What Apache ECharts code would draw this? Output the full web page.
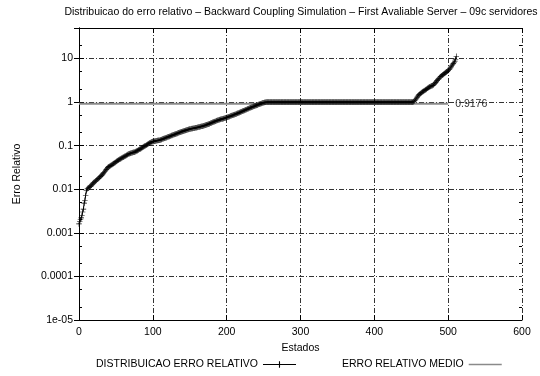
<!DOCTYPE html>
<html>
<head>
<meta charset="utf-8">
<title>Distribuicao do erro relativo</title>
<script src="https://cdn.jsdelivr.net/npm/echarts@6/dist/echarts.min.js"></script>
<style>
  html, body { margin: 0; padding: 0; background: #fff; }
  #chart { width: 540px; height: 376px; }
</style>
</head>
<body>
<div id="chart"></div>
<script>
// Sorted relative error for each state (index = state number, 0..511)
const relErrors = [
  // 0-15
  0.0016,0.0018,0.0020,0.0022,0.0025,0.0030,0.0035,0.0048,0.0056,0.0072,
  0.0092,0.0101,0.0105,0.0108,0.0111,0.0114,
  // 16-89
  0.0118,0.0124,0.0131,0.0138,0.0143,0.0147,0.0151,0.0157,0.0163,0.0169,
  0.0175,0.0181,0.0188,0.0195,0.0203,0.0211,0.0222,0.0234,0.0246,0.0259,
  0.0272,0.0286,0.0300,0.0314,0.0327,0.0334,0.0340,0.0349,0.0358,0.0368,
  0.0378,0.0389,0.0400,0.0412,0.0424,0.0436,0.0449,0.0462,0.0474,0.0486,
  0.0497,0.0509,0.0521,0.0533,0.0545,0.0557,0.0569,0.0582,0.0596,0.0610,
  0.0625,0.0640,0.0650,0.0660,0.0668,0.0676,0.0684,0.0692,0.0701,0.0710,
  0.0720,0.0735,0.0751,0.0768,0.0785,0.0803,0.0822,0.0842,0.0862,0.0883,
  0.0905,0.0928,0.0952,0.0976,
  // 90-186
  0.1000,0.1025,0.1050,0.1076,0.1103,0.1130,0.1158,0.1186,0.1214,0.1230,
  0.1242,0.1253,0.1264,0.1275,0.1285,0.1295,0.1305,0.1315,0.1326,0.1337,
  0.1349,0.1370,0.1392,0.1413,0.1435,0.1456,0.1478,0.150,0.152,0.154,
  0.157,0.159,0.161,0.164,0.167,0.170,0.172,0.175,0.177,0.180,
  0.182,0.185,0.188,0.191,0.194,0.197,0.200,0.203,0.206,0.209,
  0.212,0.215,0.218,0.221,0.224,0.227,0.230,0.232,0.235,0.237,
  0.240,0.242,0.244,0.246,0.248,0.250,0.252,0.254,0.256,0.258,
  0.260,0.263,0.266,0.268,0.271,0.274,0.277,0.280,0.283,0.286,
  0.289,0.293,0.297,0.301,0.305,0.310,0.315,0.320,0.326,0.331,
  0.337,0.342,0.348,0.354,0.359,0.365,0.371,
  // 187-253
  0.376,0.381,0.386,0.391,0.396,0.401,0.406,0.411,0.416,0.421,
  0.426,0.431,0.436,0.441,0.448,0.455,0.462,0.469,0.476,0.483,
  0.490,0.497,0.504,0.512,0.519,0.527,0.535,0.543,0.551,0.561,
  0.571,0.581,0.591,0.601,0.612,0.622,0.633,0.644,0.655,0.667,
  0.678,0.690,0.702,0.714,0.726,0.738,0.750,0.762,0.774,0.786,
  0.798,0.810,0.822,0.835,0.848,0.861,0.874,0.887,0.900,0.915,
  0.930,0.945,0.958,0.970,0.981,0.990,0.996,
  // 254-452
  1,1,1,1,1,1,1,1,1,1,1,1,1,1,1,1,1,1,1,1,
  1,1,1,1,1,1,1,1,1,1,1,1,1,1,1,1,1,1,1,1,
  1,1,1,1,1,1,1,1,1,1,1,1,1,1,1,1,1,1,1,1,
  1,1,1,1,1,1,1,1,1,1,1,1,1,1,1,1,1,1,1,1,
  1,1,1,1,1,1,1,1,1,1,1,1,1,1,1,1,1,1,1,1,
  1,1,1,1,1,1,1,1,1,1,1,1,1,1,1,1,1,1,1,1,
  1,1,1,1,1,1,1,1,1,1,1,1,1,1,1,1,1,1,1,1,
  1,1,1,1,1,1,1,1,1,1,1,1,1,1,1,1,1,1,1,1,
  1,1,1,1,1,1,1,1,1,1,1,1,1,1,1,1,1,1,1,1,
  1,1,1,1,1,1,1,1,1,1,1,1,1,1,1,1,1,1,1,
  // 453-511
  1.02,1.06,1.10,1.16,1.22,1.30,1.38,1.44,1.50,1.55,
  1.60,1.65,1.70,1.75,1.80,1.85,1.90,1.95,2.00,2.06,
  2.12,2.18,2.24,2.28,2.32,2.36,2.41,2.47,2.58,2.70,
  2.83,2.96,3.10,3.25,3.40,3.57,3.75,3.88,4.00,4.12,
  4.25,4.38,4.52,4.66,4.80,4.96,5.12,5.30,5.50,5.75,
  6.05,6.40,6.80,7.20,7.60,8.10,8.70,9.60,11.2
];

// Mean relative error and the span of states its line covers
const meanError = 0.9176;
const meanSpan = [0, 500];

// Axis ticks and labels
const xTicks = [0, 600, 100];            // min, max, step
const yRange = [1e-5, 50];
const yTickLabels = ['1e-05', '0.0001', '0.001', '0.01', '0.1', '1', '10'];
const yMinorTicks = [
  2e-5, 5e-5, 2e-4, 5e-4, 2e-3, 5e-3, 2e-2, 5e-2, 0.2, 0.5, 2, 5, 20
];

const seriesNames = ['DISTRIBUICAO ERRO RELATIVO', 'ERRO RELATIVO MEDIO'];
const titleText = 'Distribuicao do erro relativo \u2013 Backward Coupling Simulation \u2013 First Avaliable Server \u2013 09c servidores';

const FONT = 'Liberation Sans, Arial, Helvetica, sans-serif';
const PLUS = 'path://M4.45,0H5.55V4.45H10V5.55H5.55V10H4.45V5.55H0V4.45H4.45Z';
const LEGEND_PLUS_LINE = 'path://M0,4.5H14.5V2H15.5V4.5H30V5.5H15.5V8H14.5V5.5H0Z';
const LEGEND_LINE = 'path://M0,4.4H30V5.6H0Z';

const gridDash = { color: '#333', width: 1, type: [5, 2, 1, 2] };

function yLabel(v) {
  const e = Math.log10(v);
  const r = Math.round(e);
  if (Math.abs(e - r) > 1e-6) return '';
  return yTickLabels[r + 5] || '';
}

const chart = echarts.init(document.getElementById('chart'), null, { renderer: 'canvas' });

const frameLine = { show: true, lineStyle: { color: '#000', width: 1 } };

chart.setOption({
  animation: false,
  backgroundColor: '#fff',
  title: {
    text: titleText,
    left: 296,
    textAlign: 'center',
    top: 2,
    textStyle: { fontFamily: FONT, fontSize: 10.5, fontWeight: 'normal', color: '#000' }
  },
  legend: {
    left: 96,
    top: 359,
    align: 'right',
    itemGap: 46,
    itemWidth: 33,
    itemHeight: 10,
    padding: 0,
    textStyle: { fontFamily: FONT, fontSize: 10.5, color: '#000' },
    data: [
      { name: seriesNames[0], icon: LEGEND_PLUS_LINE, itemStyle: { color: '#000' } },
      { name: seriesNames[1], icon: LEGEND_LINE, itemStyle: { color: '#8a8a8a' } }
    ]
  },
  grid: { left: 79, right: 18, top: 28, bottom: 56 },
  xAxis: [
    {
      type: 'value',
      min: xTicks[0], max: xTicks[1], interval: xTicks[2],
      name: 'Estados',
      nameLocation: 'middle',
      nameGap: 21,
      nameTextStyle: { fontFamily: FONT, fontSize: 10.5, color: '#000' },
      axisLine: frameLine,
      axisTick: { show: true, inside: true, length: 5, lineStyle: { color: '#000' } },
      axisLabel: { fontFamily: FONT, fontSize: 10.5, color: '#000', margin: 7 },
      splitLine: { show: true, lineStyle: gridDash }
    },
    {
      type: 'value',
      position: 'top',
      min: xTicks[0], max: xTicks[1], interval: xTicks[2],
      axisLine: frameLine,
      axisTick: { show: true, inside: true, length: 5, lineStyle: { color: '#000' } },
      axisLabel: { show: false },
      splitLine: { show: false }
    }
  ],
  yAxis: [
    {
      type: 'log',
      logBase: 10,
      min: yRange[0], max: yRange[1],
      name: 'Erro Relativo',
      nameLocation: 'middle',
      nameGap: 56,
      nameTextStyle: { fontFamily: FONT, fontSize: 10.5, color: '#000' },
      axisLine: frameLine,
      axisTick: { show: true, inside: true, length: 5, lineStyle: { color: '#000' } },
      axisLabel: { fontFamily: FONT, fontSize: 10.5, color: '#000', margin: 6, formatter: yLabel },
      splitLine: { show: true, lineStyle: gridDash }
    },
    {
      type: 'log',
      logBase: 10,
      position: 'right',
      min: yRange[0], max: yRange[1],
      axisLine: frameLine,
      axisTick: { show: true, inside: true, length: 5, lineStyle: { color: '#000' } },
      axisLabel: { show: false },
      splitLine: { show: false }
    },
    {
      type: 'log',
      logBase: 10,
      position: 'left',
      min: yRange[0], max: yRange[1],
      axisLine: { show: false },
      axisTick: { show: true, inside: true, length: 3, customValues: yMinorTicks, lineStyle: { color: '#000' } },
      axisLabel: { show: false },
      splitLine: { show: false }
    },
    {
      type: 'log',
      logBase: 10,
      position: 'right',
      min: yRange[0], max: yRange[1],
      axisLine: { show: false },
      axisTick: { show: true, inside: true, length: 3, customValues: yMinorTicks, lineStyle: { color: '#000' } },
      axisLabel: { show: false },
      splitLine: { show: false }
    }
  ],
  series: [
    {
      name: seriesNames[0],
      type: 'line',
      z: 3,
      data: relErrors.map((v, i) => [i, v]),
      symbol: PLUS,
      symbolSize: 5.5,
      showAllSymbol: true,
      lineStyle: { color: '#000', width: 1 },
      itemStyle: { color: '#000' },
      emphasis: { disabled: true }
    },
    {
      name: seriesNames[1],
      type: 'line',
      z: 2,
      data: meanSpan.map(s => [s, meanError]),
      symbol: 'none',
      lineStyle: { color: '#8a8a8a', width: 2 },
      itemStyle: { color: '#8a8a8a' },
      endLabel: {
        show: true,
        formatter: () => meanError.toFixed(4),
        fontFamily: FONT, fontSize: 10.5, color: '#333',
        distance: 7
      },
      emphasis: { disabled: true }
    }
  ]
});
</script>
</body>
</html>
